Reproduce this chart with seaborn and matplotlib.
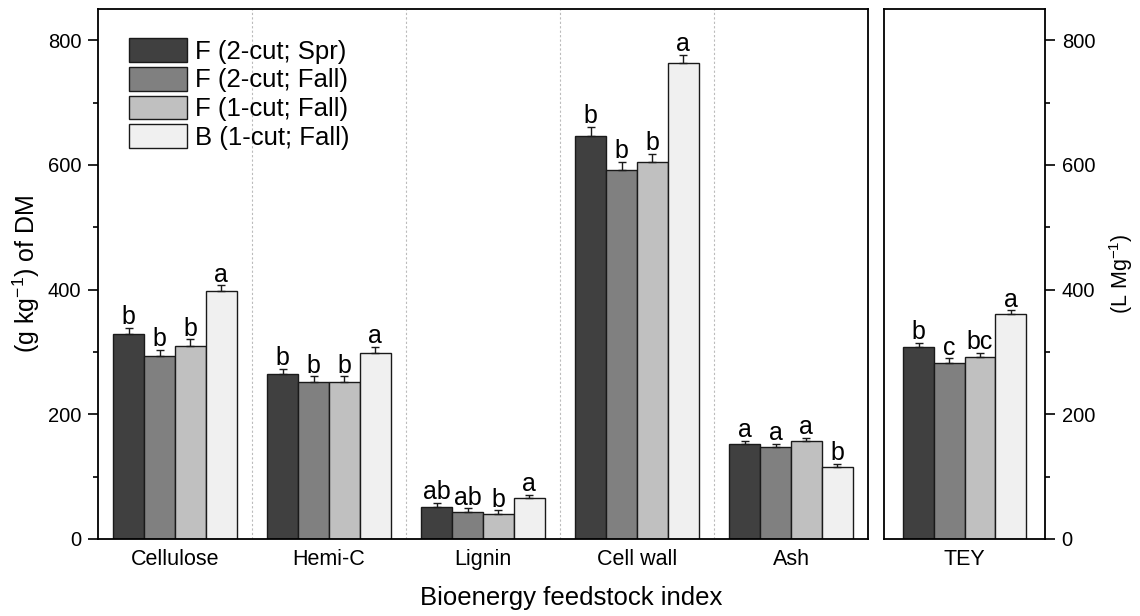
import numpy as np
import pandas as pd
import matplotlib
matplotlib.use("Agg")
import matplotlib.pyplot as plt
from matplotlib.ticker import MultipleLocator
import seaborn as sns

sns.set_theme(style="white")
plt.rcParams['font.family'] = ['Liberation Sans', 'DejaVu Sans']
plt.rcParams['text.color'] = 'black'
plt.rcParams['axes.labelcolor'] = 'black'
plt.rcParams['xtick.color'] = 'black'
plt.rcParams['ytick.color'] = 'black'
plt.rcParams['mathtext.default'] = 'regular'

categories = ["Cellulose", "Hemi-C", "Lignin", "Cell wall", "Ash"]
treatments = ["F (2-cut; Spr)", "F (2-cut; Fall)", "F (1-cut; Fall)", "B (1-cut; Fall)"]
colors = ["#404040", "#808080", "#c0c0c0", "#f0f0f0"]

# values per treatment across categories
vals = {
    "F (2-cut; Spr)":  [329, 264, 52, 647, 152],
    "F (2-cut; Fall)": [293, 251, 44, 592, 148],
    "F (1-cut; Fall)": [310, 251, 40, 605, 157],
    "B (1-cut; Fall)": [397, 298, 65, 764, 116],
}
errs = {
    "F (2-cut; Spr)":  [10, 9, 6, 14, 5],
    "F (2-cut; Fall)": [10, 10, 5, 13, 5],
    "F (1-cut; Fall)": [10, 10, 6, 13, 5],
    "B (1-cut; Fall)": [10, 10, 6, 13, 5],
}
letters = {
    "F (2-cut; Spr)":  ["b", "b", "ab", "b", "a"],
    "F (2-cut; Fall)": ["b", "b", "ab", "b", "a"],
    "F (1-cut; Fall)": ["b", "b", "b", "b", "a"],
    "B (1-cut; Fall)": ["a", "a", "a", "a", "b"],
}

tey_vals = [308, 283, 292, 361]
tey_errs = [7, 7, 7, 6]
tey_letters = ["b", "c", "bc", "a"]

rows = []
for t in treatments:
    for i, c in enumerate(categories):
        rows.append(dict(cat=c, trt=t, val=vals[t][i], err=errs[t][i], let=letters[t][i]))
df = pd.DataFrame(rows)
df_tey = pd.DataFrame(dict(cat=["TEY"] * 4, trt=treatments, val=tey_vals, err=tey_errs, let=tey_letters))

W, H = 1140, 616
fig = plt.figure(figsize=(W / 100, H / 100), dpi=100)
ax1 = fig.add_axes([98 / W, (H - 539) / H, (868 - 98) / W, (539 - 9) / H])
ax2 = fig.add_axes([884 / W, (H - 539) / H, (1045 - 884) / W, (539 - 9) / H])

TICK_FS = 14.5
CAT_FS = 15.5
LET_FS = 18
LEG_FS = 18.5
edge = "#1a1a1a"


def draw(ax, data, order):
    sns.barplot(data=data, x="cat", y="val", hue="trt", order=order, hue_order=treatments,
                palette=colors, saturation=1, edgecolor=edge, linewidth=1.0,
                errorbar=None, ax=ax, legend=(ax is ax1))
    bars = [p for p in ax.patches if p.get_height() > 0]
    k = 0
    for t in treatments:
        sub = data[data.trt == t].set_index("cat").loc[order]
        for c in order:
            p = bars[k]
            k += 1
            xc = p.get_x() + p.get_width() / 2
            v = sub.loc[c, "val"]
            e = sub.loc[c, "err"]
            ax.errorbar([xc], [v], yerr=[[0], [e]], fmt="none", ecolor=edge,
                        elinewidth=1.0, capsize=3.0, capthick=1.0, zorder=3)
            ax.annotate(sub.loc[c, "let"], (xc, v + e), xytext=(0, -1),
                        textcoords="offset points", ha="center", va="bottom",
                        fontsize=LET_FS, color="black")


draw(ax1, df, categories)
draw(ax2, df_tey, ["TEY"])

for ax in (ax1, ax2):
    ax.set_ylim(0, 850)
    ax.set_xlabel("")
    for s in ax.spines.values():
        s.set_visible(True)
        s.set_color("black")
        s.set_linewidth(1.3)
    ax.yaxis.set_major_locator(MultipleLocator(200))
    ax.yaxis.set_minor_locator(MultipleLocator(100))
    ax.tick_params(axis="x", length=0, labelsize=CAT_FS, pad=7, colors="black")
    ax.tick_params(axis="y", which="major", length=7, width=1.2, labelsize=TICK_FS,
                   direction="out", colors="black", pad=5)
    ax.tick_params(axis="y", which="minor", length=3.6, width=1.2, direction="out", colors="black")

ax1.set_xlim(-0.5, 4.5)
for xs in [0.5, 1.5, 2.5, 3.5]:
    ax1.axvline(xs, color="#bbbbbb", linestyle=(0, (2, 2)), linewidth=0.8, zorder=0)
ax1.yaxis.set_ticks_position("left")
ax1.set_ylabel("(g kg$^{-1}$) of DM", fontsize=18)
ax1.yaxis.set_label_coords(-56 / 770, 0.5)

ax2.set_xlim(-0.525, 0.525)
ax2.yaxis.set_ticks_position("right")
ax2.yaxis.set_label_position("right")
ax2.set_ylabel("(L Mg$^{-1}$)", fontsize=15.5, rotation=90)
ax2.yaxis.set_label_coords(1 + 62 / 161, 0.5)

leg = ax1.legend(loc="upper left", bbox_to_anchor=((129 - 98) / 770, (539 - 38) / 530), frameon=False,
                 fontsize=LEG_FS, handlelength=2.25, handleheight=1.05,
                 labelspacing=0.12, handletextpad=0.3, borderaxespad=0, borderpad=0)
for h in leg.legend_handles:
    h.set_edgecolor(edge)
    h.set_linewidth(1.0)

fig.text(571 / W, 1 - 598 / H, "Bioenergy feedstock index", ha="center", va="center", fontsize=18.5)

fig.savefig("out.png", dpi=100)
